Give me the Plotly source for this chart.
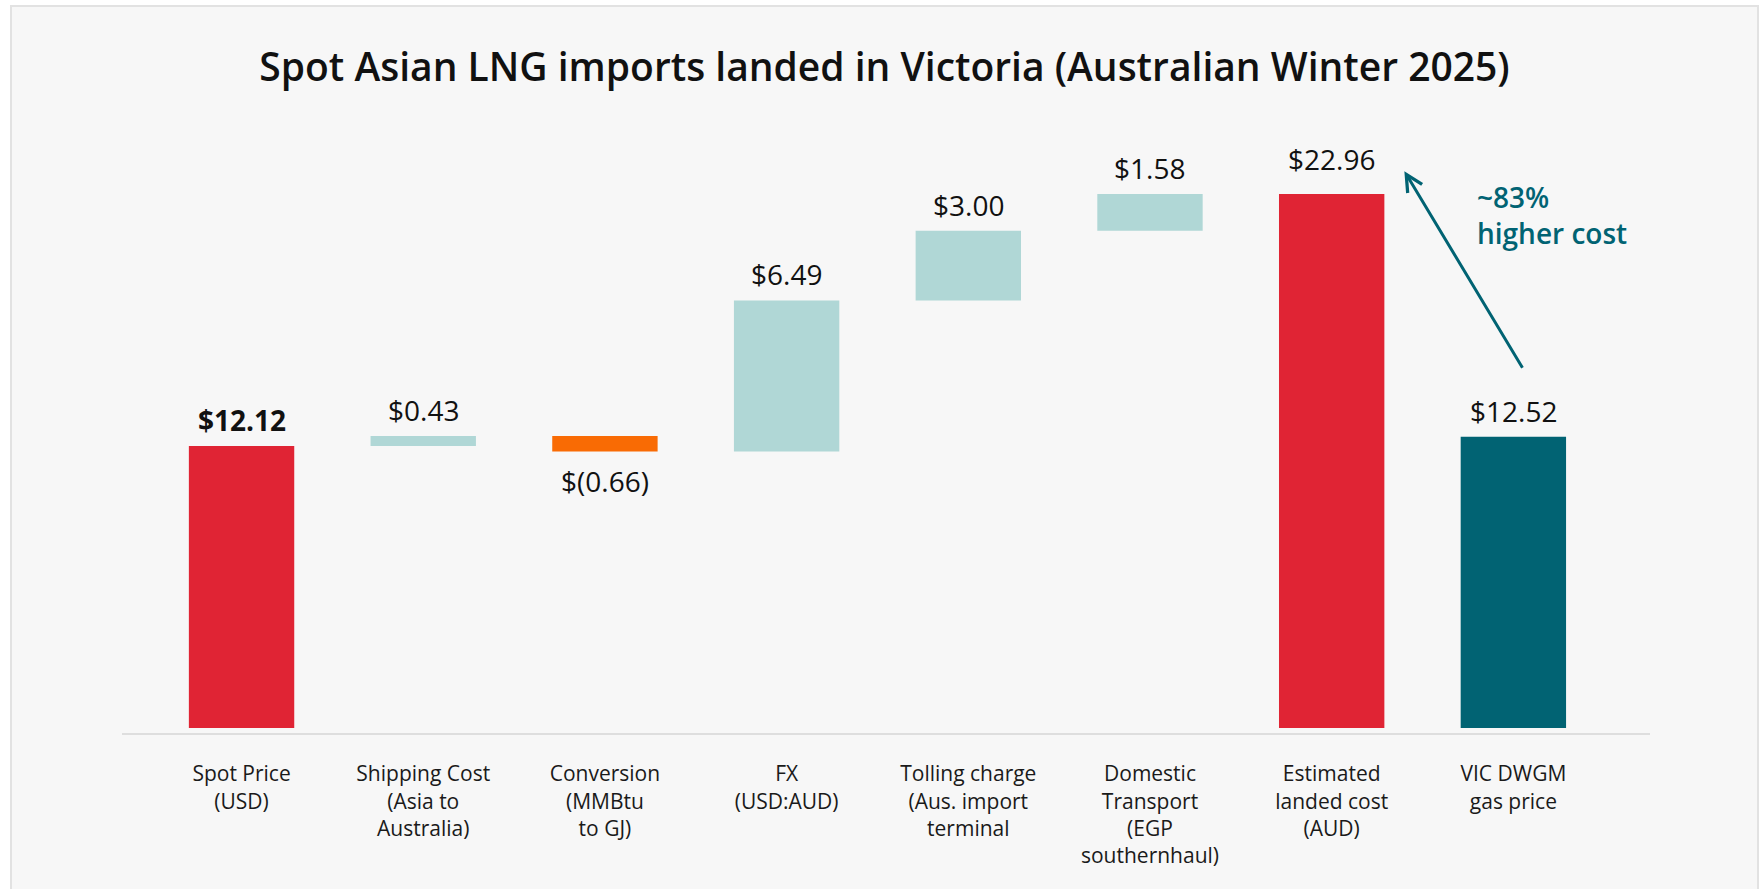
import plotly.graph_objects as go

# ---------------- data ----------------
categories = [
    "Spot Price<br>(USD)",
    "Shipping Cost<br>(Asia to<br>Australia)",
    "Conversion<br>(MMBtu<br>to GJ)",
    "FX<br>(USD:AUD)",
    "Tolling charge<br>(Aus. import<br>terminal",
    "Domestic<br>Transport<br>(EGP<br>southernhaul)",
    "Estimated<br>landed cost<br>(AUD)",
    "VIC DWGM<br>gas price",
]
values = [12.12, 0.43, -0.66, 6.49, 3.00, 1.58, 22.96, 12.52]
measures = ["absolute", "relative", "relative", "relative", "relative", "relative", "total", "absolute"]
value_labels = ["$12.12", "$0.43", "$(0.66)", "$6.49", "$3.00", "$1.58", "$22.96", "$12.52"]
title_text = "Spot Asian LNG imports landed in Victoria (Australian Winter 2025)"
callout_text = "~83%<br>higher cost"

# ---------------- styling ----------------
RED = "#e02434"
LTEAL = "#b0d7d6"
ORANGE = "#f96b04"
DTEAL = "#016373"
FONT = "Open Sans"

# compute bases / heights for waterfall through bar traces
bases, heights, colors = [], [], []
running = 0.0
for i, (v, m) in enumerate(zip(values, measures)):
    if m == "absolute":
        bases.append(0.0)
        heights.append(v)
        running = v
        colors.append(DTEAL if i == len(values) - 1 else RED)
    elif m == "total":
        bases.append(0.0)
        heights.append(v)
        running = v
        colors.append(RED)
    else:
        bases.append(running)
        heights.append(v)
        running += v
        colors.append(LTEAL if v >= 0 else ORANGE)

x_idx = list(range(len(categories)))

fig = go.Figure()
fig.add_trace(go.Bar(
    x=x_idx, y=heights, base=bases,
    marker=dict(color=colors, line=dict(width=0)),
    width=0.58, hoverinfo="skip", showlegend=False,
))

# value labels
annotations = []
for i, (b, h, lab) in enumerate(zip(bases, heights, value_labels)):
    top = b + max(h, 0)
    bot = b + min(h, 0)
    bold = (i == 0)
    txt = f"<b>{lab}</b>" if bold else lab
    if h >= 0:
        annotations.append(dict(x=i, y=top, xref="x", yref="y", text=txt, showarrow=False,
                                yanchor="bottom", yshift=(14 if measures[i] == "total" else 5),
                                font=dict(family=FONT, size=28, color="#111111")))
    else:
        annotations.append(dict(x=i, y=bot, xref="x", yref="y", text=txt, showarrow=False,
                                yanchor="top", yshift=-9,
                                font=dict(family=FONT, size=28, color="#111111")))

# arrow between VIC and estimated landed cost
annotations.append(dict(
    x=6.40, y=23.94, xref="x", yref="y",
    ax=119, ay=198, axref="pixel", ayref="pixel",
    text="", showarrow=True, arrowhead=5, arrowsize=1.1, arrowwidth=3, arrowcolor=DTEAL,
))
annotations.append(dict(
    x=6.79, y=23.75, xref="x", yref="y", text=callout_text, showarrow=False,
    xanchor="left", yanchor="top", align="left",
    font=dict(family=FONT, size=28, color=DTEAL, weight=600),
))

# layout geometry
W, H = 1762, 889
ML, MR, MT, MB = 122, 112, 100, 156
PW, PH = W - ML - MR, H - MT - MB

def px_x(p):
    return (p - ML) / PW

def px_y(p):
    return (H - MB - p) / PH

shapes = [dict(
    type="rect", xref="paper", yref="paper",
    x0=px_x(11), x1=px_x(1758), y0=px_y(905), y1=px_y(6),
    fillcolor="#f7f7f7", line=dict(color="#e2e2e2", width=2), layer="below",
)]

fig.update_layout(
    width=W, height=H,
    margin=dict(l=ML, r=MR, t=MT, b=MB, pad=0),
    paper_bgcolor="white", plot_bgcolor="rgba(0,0,0,0)",
    title=dict(text=title_text, x=0.502, xanchor="center", y=1 - 67 / H, yanchor="middle",
               font=dict(family=FONT, size=39, color="#111111", weight=600)),
    xaxis=dict(
        tickmode="array", tickvals=x_idx, ticktext=categories,
        range=[-0.658, 7.752], showgrid=False, zeroline=False,
        showline=True, linecolor="#dedede", linewidth=2, ticks="",
        tickfont=dict(family=FONT, size=21, color="#1a1a1a"),
        ticklabelstandoff=21, fixedrange=True,
    ),
    yaxis=dict(range=[-0.215, 27.0], visible=False, showgrid=False, zeroline=False, fixedrange=True),
    shapes=shapes, annotations=annotations,
    bargap=0.42,
)

fig.write_html("out.html", config={"displayModeBar": False},
               post_script="document.body.style.margin='0px';")
